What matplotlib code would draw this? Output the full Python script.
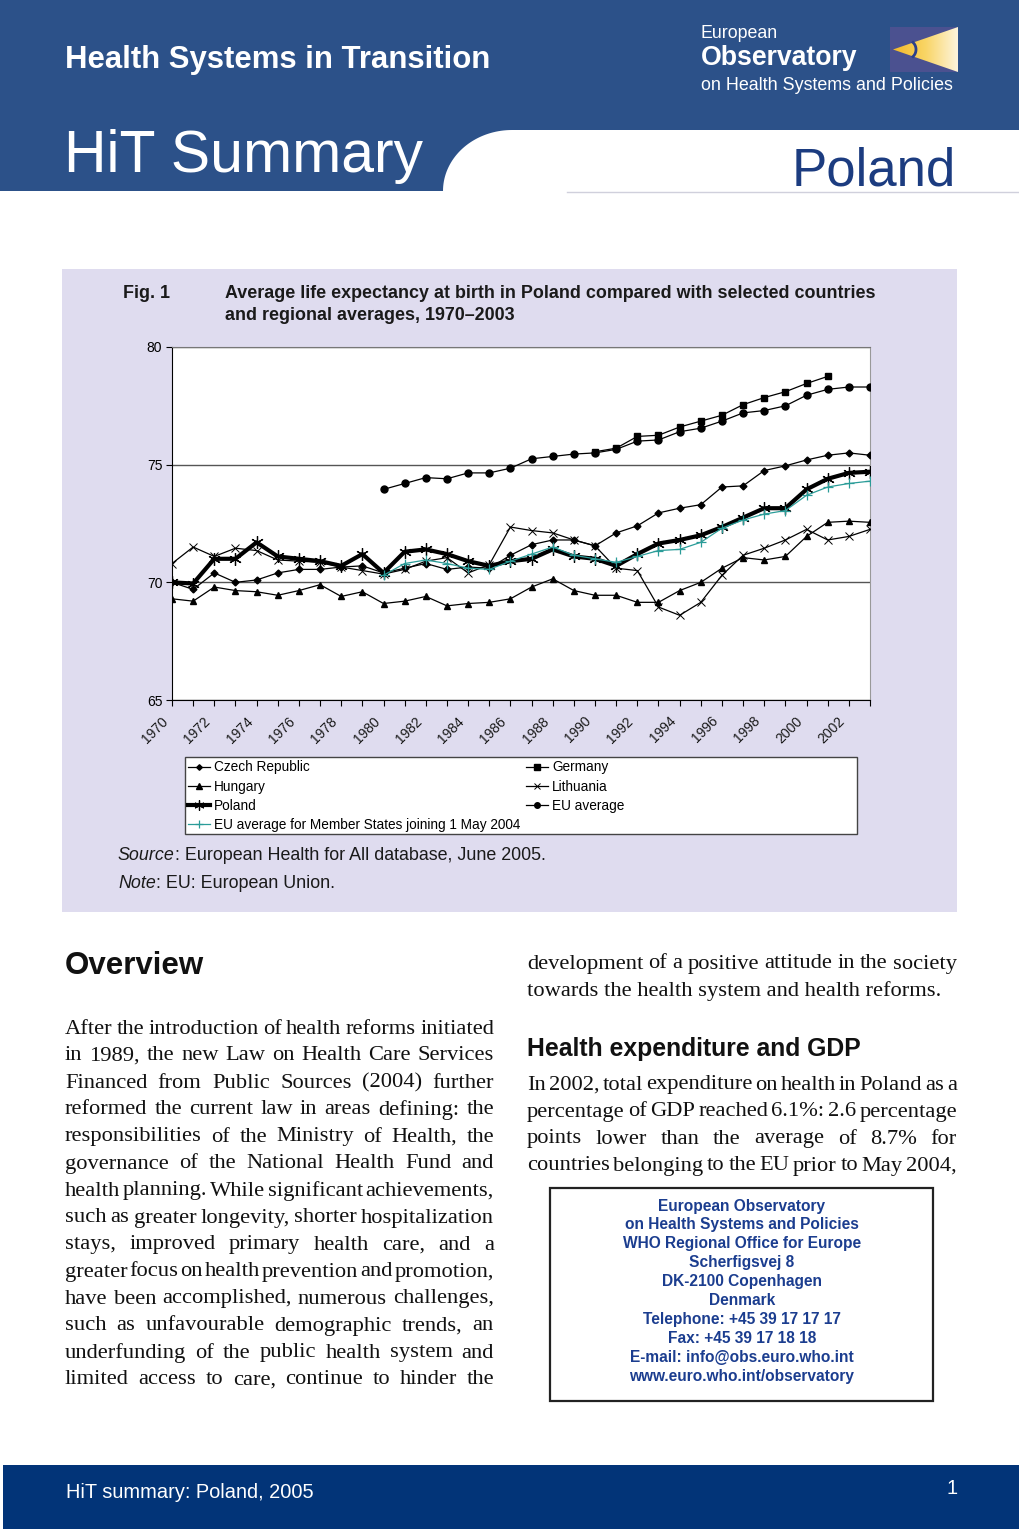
import numpy as np
import matplotlib
matplotlib.use("Agg")
import matplotlib.pyplot as plt
from matplotlib.patches import Rectangle, Polygon
from matplotlib.colors import LinearSegmentedColormap
from matplotlib.transforms import ScaledTranslation

nan = np.nan

# ---- data ----
years = list(range(1970, 2004))
czech = [70.0, 69.7, 70.4, 70.0, 70.1, 70.4, 70.55, 70.55, 70.65, 70.7, 70.4, 70.6, 70.8, 70.55, 70.65, 70.6,
         71.15, 71.6, 71.8, 71.8, 71.55, 72.1, 72.4, 72.95, 73.15, 73.3, 74.05, 74.1, 74.75, 74.95, 75.2, 75.4, 75.5, 75.4]
hungary = [69.3, 69.2, 69.8, 69.65, 69.6, 69.45, 69.65, 69.9, 69.4, 69.6, 69.1, 69.2, 69.4, 69.0, 69.1, 69.15,
           69.3, 69.8, 70.15, 69.65, 69.45, 69.45, 69.15, 69.15, 69.65, 70.0, 70.6, 71.05, 70.95, 71.1, 71.95, 72.55, 72.6, 72.55]
poland = [70.0, 69.95, 71.0, 71.0, 71.7, 71.1, 71.0, 70.9, 70.7, 71.2, 70.4, 71.3, 71.4, 71.2, 70.9, 70.7,
          70.9, 71.0, 71.4, 71.1, 71.0, 70.7, 71.2, 71.65, 71.8, 72.0, 72.35, 72.75, 73.15, 73.15, 73.95, 74.4, 74.65, 74.7]
lithuania = [70.8, 71.5, 71.1, 71.45, 71.35, 70.95, 70.9, 70.85, 70.65, 70.5, 70.35, 70.55, 70.9, 71.05, 70.4, 70.75,
             72.35, 72.2, 72.1, 71.8, 71.55, 70.6, 70.5, 68.95, 68.6, 69.15, 70.3, 71.15, 71.45, 71.8, 72.25, 71.8, 71.95, 72.25]
germany = [nan] * 20 + [75.55, 75.7, 76.2, 76.25, 76.6, 76.85, 77.1, 77.55, 77.85, 78.1, 78.45, 78.75] + [nan, nan]
eu_avg = [nan] * 10 + [73.95, 74.2, 74.45, 74.4, 74.65, 74.65, 74.85, 75.25, 75.35, 75.45, 75.5, 75.65,
                       76.0, 76.05, 76.4, 76.55, 76.85, 77.2, 77.3, 77.5, 77.95, 78.2, 78.3, 78.3]
eu_new = [nan] * 10 + [70.3, 70.8, 70.95, 70.8, 70.6, 70.55, 70.9, 71.2, 71.5, 71.15, 71.0, 70.85,
                       71.1, 71.35, 71.4, 71.7, 72.3, 72.65, 72.9, 73.05, 73.7, 74.05, 74.2, 74.3]
label_years = list(range(1970, 2003, 2))
y_ticks = [65, 70, 75, 80]

left_par = [
    "After the introduction of health reforms initiated",
    "in 1989, the new Law on Health Care Services",
    "Financed from Public Sources (2004) further",
    "reformed the current law in areas defining: the",
    "responsibilities of the Ministry of Health, the",
    "governance of the National Health Fund and",
    "health planning. While significant achievements,",
    "such as greater longevity, shorter hospitalization",
    "stays, improved primary health care, and a",
    "greater focus on health prevention and promotion,",
    "have been accomplished, numerous challenges,",
    "such as unfavourable demographic trends, an",
    "underfunding of the public health system and",
    "limited access to care, continue to hinder the",
]
right_par1 = [
    "development of a positive attitude in the society",
    "towards the health system and health reforms.",
]
right_par2 = [
    "In 2002, total expenditure on health in Poland as a",
    "percentage of GDP reached 6.1%: 2.6 percentage",
    "points lower than the average of 8.7% for",
    "countries belonging to the EU prior to May 2004,",
]
address = [
    "European Observatory",
    "on Health Systems and Policies",
    "WHO Regional Office for Europe",
    "Scherfigsvej 8",
    "DK-2100 Copenhagen",
    "Denmark",
    "Telephone: +45 39 17 17 17",
    "Fax: +45 39 17 18 18",
    "E-mail: info@obs.euro.who.int",
    "www.euro.who.int/observatory",
]

SANS = "Liberation Sans"
SERIF = "Liberation Serif"
BLUE = "#2c5189"
DARK_BLUE = "#023478"
LAV = "#dfdcef"
INK = "#111111"

plt.rcParams["font.family"] = SANS

fig = plt.figure(figsize=(10.2, 15.29), dpi=100)
bg = fig.add_axes([0, 0, 1, 1])
bg.set_xlim(0, 1020)
bg.set_ylim(1529, 0)
bg.axis("off")
renderer = fig.canvas.get_renderer()

# ---- header ----
bg.add_patch(Rectangle((0, 0), 1020, 130, color=BLUE, lw=0))
th = np.linspace(0, np.pi / 2, 40)
arc = [(512 - 69 * np.sin(t), 191 - 61 * np.cos(t)) for t in th]
bg.add_patch(Polygon([(0, 130)] + arc + [(0, 191)], closed=True, color=BLUE, lw=0))
bg.plot([567, 1020], [191.5, 191.5], color="#d0d0dc", lw=1)
bg.text(65, 60, "Health Systems in Transition", color="white", fontsize=22.4, fontweight="bold", va="center")
bg.text(64, 157, "HiT Summary", color="white", fontsize=42.4, va="center")
bg.text(956, 171, "Poland", color="#1c3c80", fontsize=38, va="center", ha="right")
bg.text(701, 34, "European", color="white", fontsize=12.8, va="center")
bg.text(701, 58, "Observatory", color="white", fontsize=19.2, fontweight="bold", va="center")
bg.text(701, 85, "on Health Systems and Policies", color="white", fontsize=12.9, va="center")

# logo
bg.add_patch(Rectangle((890, 27), 68, 45, color="#4b5190", lw=0))
tri = Polygon([(893, 49.5), (958, 27), (958, 72)], closed=True, facecolor="none", edgecolor="none")
bg.add_patch(tri)
grad = np.linspace(0, 1, 100).reshape(1, -1)
ycm = LinearSegmentedColormap.from_list("y", ["#f2b92a", "#f9d565", "#fdf4dc"])
im = bg.imshow(grad, cmap=ycm, extent=(893, 958, 72, 27), aspect="auto", zorder=2)
im.set_clip_path(tri)
ta = np.linspace(-0.9, 0.9, 20)
bg.plot(908 + 8 * np.cos(ta), 49.5 + 9 * np.sin(ta), color="#2c3f8a", lw=2, zorder=3)
bg.set_xlim(0, 1020)
bg.set_ylim(1529, 0)

# ---- figure panel ----
bg.add_patch(Rectangle((62, 269), 895, 643, color=LAV, lw=0))
bg.text(123, 294, "Fig. 1", fontsize=12.9, fontweight="bold", va="center", color="#1a1a1a")
bg.text(225, 294, "Average life expectancy at birth in Poland compared with selected countries",
        fontsize=12.9, fontweight="bold", va="center", color="#1a1a1a")
bg.text(225, 316, "and regional averages, 1970\u20132003", fontsize=12.9, fontweight="bold", va="center", color="#1a1a1a")

# legend frame
bg.add_patch(Rectangle((185, 757), 672, 77, facecolor="white", edgecolor="#444444", lw=1))


def label_pair(x, y, first, rest, size):
    t = bg.text(x, y, first, fontsize=size, style="italic", va="center", color="#1a1a1a")
    w = t.get_window_extent(renderer).width
    bg.text(x + w, y, rest, fontsize=size, va="center", color="#1a1a1a")


label_pair(118, 856, "Source", ": European Health for All database, June 2005.", 12.9)
label_pair(118, 884, "Note", ": EU: European Union.", 12.9)

# ---- chart ----
ax = fig.add_axes([172 / 1020, 1 - 700 / 1529, 698 / 1020, 353 / 1529])
ax.set_facecolor("white")
ax.set_xlim(1970, 2003)
ax.set_ylim(65, 80)
ax.set_yticks(y_ticks)
ax.set_yticklabels([str(v) for v in y_ticks], fontsize=10)
ax.set_xticks(years)
ax.set_xticklabels([])
lab_tr = ax.get_xaxis_transform() + ScaledTranslation(-0.11, -0.14, fig.dpi_scale_trans)
for yr in label_years:
    ax.text(yr, 0, str(yr), transform=lab_tr, rotation=45, ha="right", va="top",
            rotation_mode="anchor", fontsize=10, color="#1a1a1a", clip_on=False)
ax.tick_params(axis="both", direction="out", length=4, width=0.8, color="black")
ax.tick_params(axis="y", pad=3)
for y in y_ticks:
    ax.axhline(y, color="#555555", lw=1, zorder=1)
ax.spines["left"].set_color("black")
ax.spines["bottom"].set_color("black")
ax.spines["top"].set_color("#777777")
ax.spines["right"].set_color("#999999")

lw = 0.9
h_cz, = ax.plot(years, czech, color="black", lw=lw, marker="D", ms=3.5, zorder=3)
h_hu, = ax.plot(years, hungary, color="black", lw=lw, marker="^", ms=5, zorder=3)
h_pl, = ax.plot(years, poland, color="black", lw=3, marker=(6, 2, 0), ms=9, mew=0.9, zorder=4)
h_new, = ax.plot(years, eu_new, color="#2a9c98", lw=lw, marker="+", ms=7, mew=0.9, zorder=5)
h_de, = ax.plot(years, germany, color="black", lw=lw, marker="s", ms=5, zorder=3)
h_lt, = ax.plot(years, lithuania, color="black", lw=lw, marker="x", ms=6, mew=0.7, zorder=3)
h_eu, = ax.plot(years, eu_avg, color="black", lw=lw, marker="o", ms=5, zorder=3)

handles = [h_cz, h_hu, h_pl, h_new, h_de, h_lt, h_eu]
labels = ["Czech Republic", "Hungary", "Poland", "EU average for Member States joining 1 May 2004",
          "Germany", "Lithuania", "EU average"]
fig.legend(handles, labels, loc="upper left", bbox_to_anchor=(187 / 1020, 1 - 759 / 1529),
           ncol=2, frameon=False, fontsize=9.8, handlelength=1.6, handletextpad=0.3,
           labelspacing=0.38, columnspacing=0.4, borderpad=0.1, borderaxespad=0, markerscale=0.8)


# ---- text columns ----
def put_lines(lines, x0, x1, y0, step, last_left=False, **kw):
    for i, line in enumerate(lines):
        y = y0 + i * step
        if last_left and i == len(lines) - 1:
            bg.text(x0, y, line, va="center", **kw)
            continue
        words = line.split()
        texts = [bg.text(0, y, w, va="center", **kw) for w in words]
        widths = [t.get_window_extent(renderer).width for t in texts]
        gap = (x1 - x0 - sum(widths)) / (len(words) - 1)
        x = x0
        for t, w in zip(texts, widths):
            t.set_x(x)
            x += w + gap


body = dict(fontsize=16.2, family=SERIF, color=INK)
bg.text(65, 966, "Overview", fontsize=22.5, fontweight="bold", va="center", color=INK)
put_lines(left_par, 65, 494, 1029, 27, **body)
put_lines(right_par1, 527, 957, 964, 27, last_left=True, **body)
bg.text(527, 1049, "Health expenditure and GDP", fontsize=17.8, fontweight="bold", va="center", color=INK)
put_lines(right_par2, 527, 957, 1085, 27, **body)

# address box
bg.add_patch(Rectangle((550, 1188), 383, 213, facecolor="white", edgecolor="#222222", lw=1.6))
for i, line in enumerate(address):
    bg.text(742, 1206 + i * 18.9, line, fontsize=11.2, fontweight="bold", color="#1b3d8f",
            ha="center", va="center")

# ---- footer ----
bg.add_patch(Rectangle((3, 1465), 1017, 64, color=DARK_BLUE, lw=0))
bg.text(66, 1492, "HiT summary: Poland, 2005", color="white", fontsize=14.4, va="center")
bg.text(958, 1488, "1", color="white", fontsize=14.4, va="center", ha="right")

fig.savefig("out.png", dpi=100)
